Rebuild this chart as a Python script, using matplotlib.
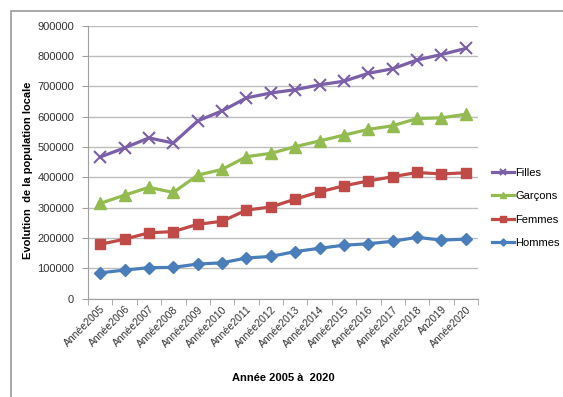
import matplotlib.pyplot as plt
import matplotlib.patches as mpatches
import numpy as np

plt.rcParams['font.family'] = ['Liberation Sans', 'DejaVu Sans']

annees = ["Année2005", "Année2006", "Année2007", "Année2008", "Année2009",
          "Année2010", "Année2011", "Année2012", "Année2013", "Année2014",
          "Année2015", "Année2016", "Année2017", "Année2018", "An2019", "Année2020"]

filles = [467000, 497000, 530000, 513000, 586000, 619000, 662000, 678000,
          689000, 705000, 717000, 743000, 758000, 787000, 805000, 825000]
garcons = [314000, 341000, 367000, 350000, 407000, 426000, 468000, 479000,
           501000, 520000, 539000, 558000, 570000, 594000, 596000, 608000]
femmes = [179000, 196000, 217000, 221000, 245000, 255000, 292000, 302000,
          328000, 352000, 372000, 388000, 402000, 416000, 411000, 415000]
hommes = [85000, 94000, 102000, 103000, 114000, 118000, 134000, 139000,
          155000, 166000, 176000, 181000, 189000, 202000, 193000, 196000]

fig = plt.figure(figsize=(5.63, 3.97), dpi=100)
# chart border (Excel style frame, cut at right/bottom)
fig.patches.append(mpatches.Rectangle((11 / 563, -0.05), 1.0, 1 - 11 / 397 + 0.05,
                                      transform=fig.transFigure, fill=False,
                                      edgecolor='#9a9a9a', linewidth=1.2))

ax = fig.add_axes([88 / 563, 1 - 298.6 / 397, (478 - 88) / 563, (298.6 - 25.7) / 397])
x = np.arange(len(annees))

ax.plot(x, filles, color='#7b5fa8', marker='x', markersize=8, markeredgewidth=1.5,
        linewidth=2.3, label='Filles')
ax.plot(x, garcons, color='#93bb4f', marker='^', markersize=8, linewidth=2.3,
        label='Garçons')
ax.plot(x, femmes, color='#bf4a47', marker='s', markersize=7.5, linewidth=2.3,
        label='Femmes')
ax.plot(x, hommes, color='#4a7ebb', marker='D', markersize=6, linewidth=2.3,
        label='Hommes')

ax.set_xlim(-0.5, len(annees) - 0.5)
ax.set_ylim(0, 900000)
ax.set_yticks(np.arange(0, 900001, 100000))
ax.set_yticklabels([str(v) for v in range(0, 900001, 100000)], fontsize=8, color='#333333')
ax.yaxis.grid(True, color='#bdbdbd', linewidth=1)
ax.set_axisbelow(True)

ax.set_xticks(x)
ax.set_xticklabels(annees, rotation=45, ha='right', rotation_mode='anchor', fontsize=7.5,
                   color='#333333')
ax.set_xticks(np.arange(-0.5, len(annees), 1), minor=True)
ax.tick_params(axis='x', which='major', length=0, pad=4)
ax.tick_params(axis='x', which='minor', length=4, color='#a0a0a0')
ax.tick_params(axis='y', length=4, color='#a0a0a0', pad=6)

for s in ['top', 'right']:
    ax.spines[s].set_visible(False)
ax.spines['left'].set_color('#a0a0a0')
ax.spines['bottom'].set_color('#a0a0a0')

ax.set_ylabel("Evolution  de la population locale", fontsize=8, fontweight='bold')
ax.yaxis.set_label_coords(-0.14, 0.47)
fig.text(283 / 563, 1 - 378 / 397, "Année 2005 à  2020", fontsize=8, fontweight='bold',
         ha='center', va='center')

leg = fig.legend(loc='upper left', bbox_to_anchor=(482 / 563, 1 - 158 / 397), frameon=False,
                 fontsize=8, handlelength=2.0, handletextpad=0.1, labelspacing=1.2,
                 markerscale=0.6)

fig.savefig("out.png", dpi=100)
